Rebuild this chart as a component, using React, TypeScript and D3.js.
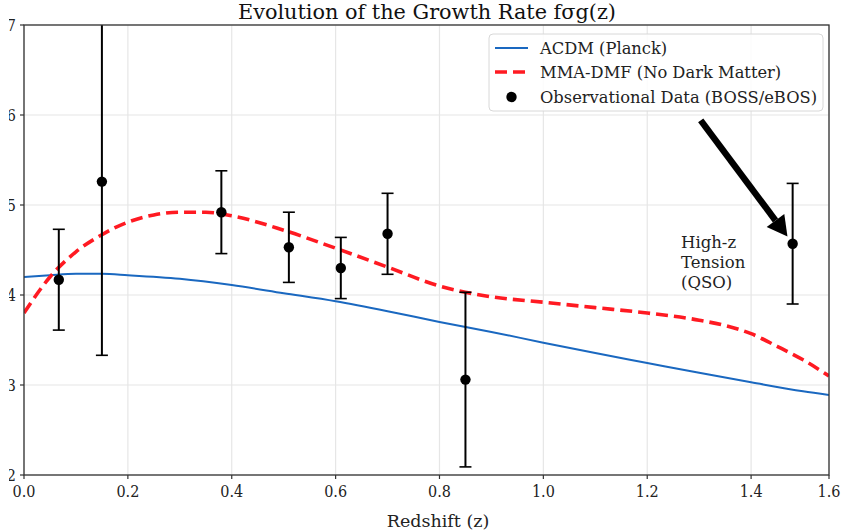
import React from "react";
import * as d3 from "d3";

// chart values
const lcdmZ = [0, 0.05, 0.1, 0.15, 0.2, 0.3, 0.4, 0.5, 0.6, 0.7, 0.8, 0.9, 1.0, 1.1, 1.2, 1.3, 1.4, 1.5, 1.55];
const lcdmF = [0.42, 0.422, 0.4235, 0.4235, 0.422, 0.418, 0.411, 0.402, 0.393, 0.382, 0.37, 0.359, 0.347, 0.3355, 0.3245, 0.3135, 0.303, 0.293, 0.289];

const mmaZ = [0, 0.05, 0.1, 0.15, 0.2, 0.25, 0.3, 0.35, 0.4, 0.5, 0.6, 0.7, 0.8, 0.9, 1.0, 1.1, 1.2, 1.3, 1.35, 1.4, 1.45, 1.5, 1.55];
const mmaF = [0.38, 0.42, 0.448, 0.467, 0.481, 0.489, 0.492, 0.492, 0.488, 0.472, 0.452, 0.431, 0.41, 0.398, 0.392, 0.386, 0.38, 0.372, 0.366, 0.357, 0.343, 0.328, 0.31];

const obsZ = [0.067, 0.15, 0.38, 0.51, 0.61, 0.7, 0.85, 1.48];
const obsF = [0.417, 0.526, 0.492, 0.453, 0.43, 0.468, 0.306, 0.457];
const obsErr = [0.056, 0.193, 0.046, 0.039, 0.034, 0.045, 0.097, 0.067];

const xTicks = [0, 0.2, 0.4, 0.6, 0.8, 1.0, 1.2, 1.4, 1.55];
const xTickLabels = ["0.0", "0.2", "0.4", "0.6", "0.8", "1.0", "1.2", "1.4", "1.6"];
const yTicks = [0.2, 0.3, 0.4, 0.5, 0.6, 0.7];
const yTickLabels = ["0.2", "0.3", "0.4", "0.5", "0.6", "0.7"];

const legendLabels = ["ACDM (Planck)", "MMA-DMF (No  Dark Matter)", "Observational Data (BOSS/eBOS)"];
const noteLines = ["High-z", "Tension", "(QSO)"];
// arrow from [z, f] to [z, f]
const arrowFrom = [1.303, 0.594];
const arrowTo = [1.47, 0.465];

const W = 843, H = 532;
const margin = { top: 25, right: 14, bottom: 57, left: 24 };
const FONT = "'DejaVu Serif', serif";
const FONT_NARROW = "'DejaVu Serif Condensed', 'DejaVu Serif', serif";
const BLUE = "#1a68c0";
const RED = "#ff1a22";

export default function App() {
  const x = d3.scaleLinear().domain([0, 1.55]).range([margin.left, W - margin.right]);
  const y = d3.scaleLinear().domain([0.2, 0.7]).range([H - margin.bottom, margin.top]);

  const lcdmPath = d3.line<number>().x(d => x(d)).y((d, i) => y(lcdmF[i])).curve(d3.curveMonotoneX)(lcdmZ);
  const mmaPath = d3.line<number>().x(d => x(d)).y((d, i) => y(mmaF[i])).curve(d3.curveMonotoneX)(mmaZ);

  const x0 = x.range()[0], x1 = x.range()[1];
  const y0 = y.range()[1], y1 = y.range()[0];

  // arrow geometry
  const ax1 = x(arrowFrom[0]), ay1 = y(arrowFrom[1]);
  const ax2 = x(arrowTo[0]), ay2 = y(arrowTo[1]);
  const ang = Math.atan2(ay2 - ay1, ax2 - ax1);
  const headLen = 20, headW = 11;
  const bx = ax2 - headLen * Math.cos(ang), by = ay2 - headLen * Math.sin(ang);
  const px = -Math.sin(ang), py = Math.cos(ang);
  const head = `M${ax2},${ay2}L${bx + px * headW},${by + py * headW}L${bx - px * headW},${by - py * headW}Z`;

  const lg = { x: 489, y: 34, w: 334, h: 77 };

  return (
    <svg width={W} height={H} style={{ position: "absolute", left: 0, top: 0, background: "#fff" }}
      fontFamily={FONT}>
      <defs>
        <clipPath id="plot"><rect x={x0} y={y0} width={x1 - x0} height={y1 - y0} /></clipPath>
        <clipPath id="ylab"><rect x={9} y={0} width={20} height={H} /></clipPath>
      </defs>
      <rect width={W} height={H} fill="#fff" />

      {/* grid */}
      <g stroke="#e6e6e6" strokeWidth={1.2}>
        {xTicks.map((t, i) => <line key={i} x1={x(t)} x2={x(t)} y1={y0} y2={y1} />)}
        {yTicks.map((t, i) => <line key={i} x1={x0} x2={x1} y1={y(t)} y2={y(t)} />)}
      </g>

      <g clipPath="url(#plot)">
        <path d={lcdmPath || ""} fill="none" stroke={BLUE} strokeWidth={2} />
        <path d={mmaPath || ""} fill="none" stroke={RED} strokeWidth={3.6} strokeDasharray="12 6" />
        {obsZ.map((z, i) => (
          <g key={i} stroke="#000" strokeWidth={2}>
            <line x1={x(z)} x2={x(z)} y1={y(obsF[i] - obsErr[i])} y2={y(obsF[i] + obsErr[i])} />
            <line x1={x(z) - 6} x2={x(z) + 6} y1={y(obsF[i] - obsErr[i])} y2={y(obsF[i] - obsErr[i])} strokeWidth={1.6} />
            <line x1={x(z) - 6} x2={x(z) + 6} y1={y(obsF[i] + obsErr[i])} y2={y(obsF[i] + obsErr[i])} strokeWidth={1.6} />
            <circle cx={x(z)} cy={y(obsF[i])} r={5.2} fill="#000" stroke="none" />
          </g>
        ))}
      </g>

      {/* annotation */}
      <line x1={ax1} y1={ay1} x2={bx} y2={by} stroke="#000" strokeWidth={6.5} />
      <path d={head} fill="#000" />
      <text fontSize={16.5} fill="#222">
        {noteLines.map((t, i) => <tspan key={i} x={681} y={248 + i * 20}>{t}</tspan>)}
      </text>

      {/* spines */}
      <rect x={x0} y={y0} width={x1 - x0} height={y1 - y0} fill="none" stroke="#333" strokeWidth={1.3} />

      {/* x axis */}
      <g>
        {xTicks.map((t, i) => (
          <g key={i} transform={`translate(${x(t)},${y1})`}>
            <line y2={4} stroke="#333" strokeWidth={1.2} />
            <text y={22} textAnchor="middle" fontSize={16} fill="#222" fontFamily={FONT_NARROW} fontStretch="condensed">{xTickLabels[i]}</text>
          </g>
        ))}
        <text x={438} y={527} textAnchor="middle" fontSize={17.5} fill="#222">Redshift (z)</text>
      </g>

      {/* y axis */}
      <g>
        {yTicks.map((t, i) => (
          <line key={i} x1={x0 - 4} x2={x0} y1={y(t)} y2={y(t)} stroke="#333" strokeWidth={1.2} />
        ))}
        <g clipPath="url(#ylab)">
          {yTicks.map((t, i) => (
            <text key={i} x={16} y={y(t) + 5.5} textAnchor="end" fontSize={16} fill="#222" fontFamily={FONT_NARROW} fontStretch="condensed">{yTickLabels[i]}</text>
          ))}
        </g>
      </g>

      {/* title */}
      <text x={427} y={19} textAnchor="middle" fontSize={20.8} fill="#111">
        Evolution of the Growth Rate fσg(z)
      </text>

      {/* legend */}
      <g>
        <rect x={lg.x} y={lg.y} width={lg.w} height={lg.h} rx={4} fill="#fff" fillOpacity={0.85} stroke="#d8d8d8" />
        <line x1={495} x2={528} y1={48} y2={48} stroke={BLUE} strokeWidth={2} />
        <line x1={495} x2={528} y1={72} y2={72} stroke={RED} strokeWidth={3.6} strokeDasharray="12 6" />
        <circle cx={511.5} cy={97} r={5.2} fill="#000" />
        {legendLabels.map((t, i) => (
          <text key={i} x={540} y={48 + i * 24.5 + 5.5} fontSize={16.3} fill="#222">{t}</text>
        ))}
      </g>
    </svg>
  );
}
